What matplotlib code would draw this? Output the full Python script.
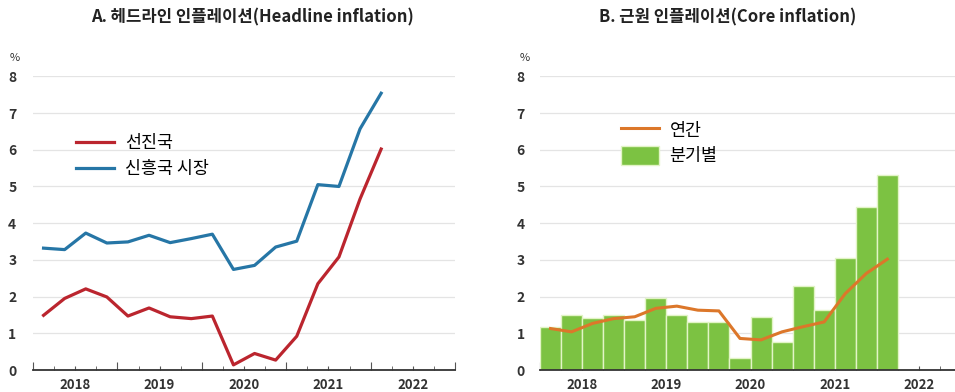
import numpy as np
import matplotlib.pyplot as plt

plt.rcParams['font.family'] = ['Noto Sans CJK KR', 'DejaVu Sans']

# quarterly data, Q1 2018 .. Q1 2022
quarters = 2018.125 + 0.25 * np.arange(17)
advanced = [1.49, 1.95, 2.21, 1.99, 1.47, 1.69, 1.45, 1.40, 1.47, 0.14,
            0.45, 0.27, 0.92, 2.35, 3.08, 4.66, 6.02]
emerging = [3.32, 3.28, 3.73, 3.46, 3.49, 3.67, 3.47, 3.58, 3.70, 2.74,
            2.85, 3.35, 3.51, 5.05, 5.00, 6.57, 7.54]
core_quarterly = [1.16, 1.49, 1.43, 1.51, 1.36, 1.97, 1.51, 1.31, 1.30, 0.34,
                  1.44, 0.75, 2.28, 1.63, 3.06, 4.44, 5.30]
core_annual = [1.13, 1.04, 1.27, 1.40, 1.45, 1.68, 1.74, 1.63, 1.61, 0.86,
               0.82, 1.04, 1.18, 1.31, 2.08, 2.63, 3.02]
years = [2018, 2019, 2020, 2021, 2022]

fig = plt.figure(figsize=(9.55, 3.92), dpi=100)
ax1 = fig.add_axes([33 / 955, 0.0561, 422 / 955, 0.751])
ax2 = fig.add_axes([540 / 955, 0.0561, 421 / 955, 0.751])

TXT = '#333333'


def style(ax, ypad):
    ax.set_xlim(2018, 2023)
    ax.set_ylim(0, 8.02)
    ax.set_yticks(range(0, 9))
    ax.yaxis.grid(True, color='#e4e4e4', lw=0.9)
    ax.set_axisbelow(True)
    for s in ['top', 'right', 'left']:
        ax.spines[s].set_visible(False)
    ax.spines['bottom'].set_color('#333333')
    ax.spines['bottom'].set_linewidth(1.3)
    ax.spines['bottom'].set_zorder(5)
    ax.tick_params(axis='y', length=0, pad=ypad, labelsize=10, labelcolor=TXT)
    ax.set_xticks([y + 0.5 for y in years])
    ax.set_xticklabels([str(y) for y in years], fontweight='bold')
    ax.set_xticks([y + q for y in years for q in (0.25, 0.75)], minor=True)
    ax.tick_params(axis='x', which='both', direction='in', length=3,
                   color='#555555', pad=6, labelsize=9.5, labelcolor=TXT)
    sec = ax.secondary_xaxis('bottom')
    sec.set_xticks(years + [2023])
    sec.set_xticklabels([])
    sec.tick_params(direction='in', length=6, color='#555555')
    sec.spines['bottom'].set_visible(False)
    for lbl in ax.get_yticklabels():
        lbl.set_fontweight('bold')


style(ax1, 12)
style(ax2, 11)

ax1.plot(quarters, advanced, color='#bb252e', lw=2.3, label='선진국')
ax1.plot(quarters, emerging, color='#2676a6', lw=2.3, label='신흥국 시장')
ax1.legend(loc='upper left', bbox_to_anchor=(0.065, 0.855), frameon=False,
           fontsize=12.5, handlelength=2.2, labelspacing=0.45,
           handletextpad=0.6)

ax2.bar(quarters, core_quarterly, width=0.25, color='#7cc242',
        edgecolor='#e2f4c6', linewidth=1.0, label='분기별', zorder=2)
ax2.plot(quarters, core_annual, color='#dc772a', lw=2.2, label='연간', zorder=3)
ax2.legend(loc='upper left', bbox_to_anchor=(0.155, 0.9), frameon=False,
           fontsize=12.5, handlelength=2.2, handleheight=1.3,
           labelspacing=0.35, handletextpad=0.6)

fig.text(15 / 955, 1 - 58 / 392, '%', fontsize=8, color=TXT, ha='center', va='center')
fig.text(525 / 955, 1 - 58 / 392, '%', fontsize=8, color=TXT, ha='center', va='center')
fig.text(252 / 955, 1 - 17 / 392, 'A. 헤드라인 인플레이션(Headline inflation)',
         fontsize=12, fontweight='bold', color='#222222', ha='center', va='center')
fig.text(728 / 955, 1 - 17 / 392, 'B. 근원 인플레이션(Core inflation)',
         fontsize=12, fontweight='bold', color='#222222', ha='center', va='center')

fig.savefig('out.png', dpi=100)
